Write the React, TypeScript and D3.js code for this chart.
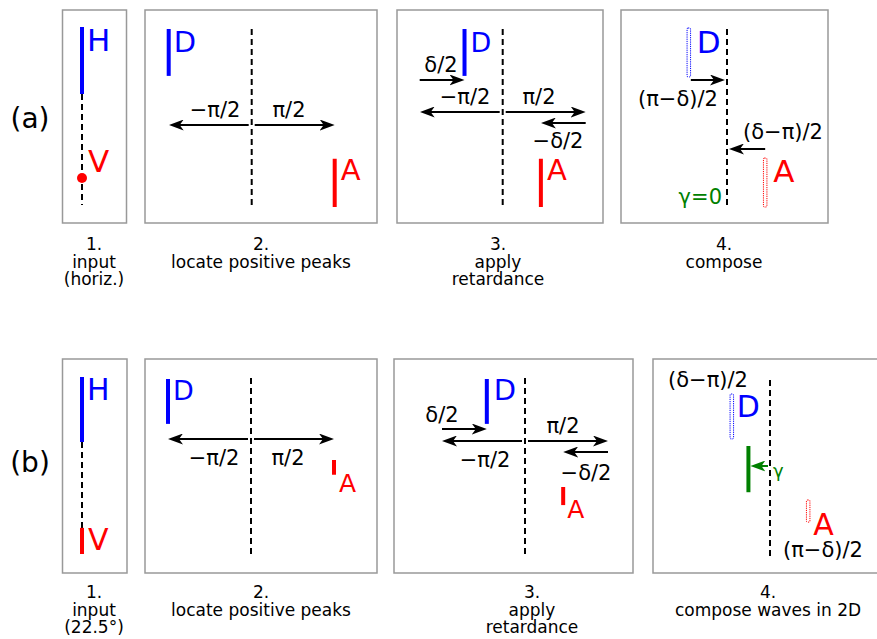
import React from "react";
import * as d3 from "d3";

// retardance, in units of pi
const delta = 0.54;

const rowLabels = ["(a)", "(b)"];
const captionsA = [["1.", "input", "(horiz.)"], ["2.", "locate positive peaks"], ["3.", "apply", "retardance"], ["4.", "compose"]];
const captionsB = [["1.", "input", "(22.5°)"], ["2.", "locate positive peaks"], ["3.", "apply", "retardance"], ["4.", "compose waves in 2D"]];

// amplitudes (1 = full input amplitude)
const inputAmpA = [1.0, 0]; // H, V
const inputAmpB = [0.97, 0.39];
const peakAmpA = [0.7, 0.72]; // D, A
const peakAmpB = [0.67, 0.22];
const retardAmpB = [0.67, 0.27];
const composeAmpA = [0.73, 0.73];
const composeAmpB = [0.67, 0.33];
const gammaAmpB = 0.69;
const gammaPhaseB = -0.13;

const phaseLabels = ["−π/2", "π/2", "δ/2", "−δ/2", "(π−δ)/2", "(δ−π)/2"];

const FONT = "DejaVu Sans";
const BLUE = "#0000ff", RED = "#ff0000", GREEN = "#008000";

const amp = d3.scaleLinear().domain([0, 1]).range([0, 67]);
const phaseScale = (cx: number) => d3.scaleLinear().domain([-1, 1]).range([cx - 166, cx + 166]);

const Box = ({ x0, x1, y0, y1 }: any) => (
  <rect x={x0} y={y0} width={x1 - x0} height={y1 - y0} fill="none" stroke="#999" strokeWidth={1.5} />
);

const Dash = ({ x, y0, y1 }: any) => (
  <line x1={x} x2={x} y1={y0} y2={y1} stroke="#000" strokeWidth={2} strokeDasharray="6,4" />
);

const Bar = ({ x, y0, y1, color }: any) => (
  <line x1={x} x2={x} y1={y0} y2={y1} stroke={color} strokeWidth={4} />
);

const Dotted = ({ x, y0, y1, color }: any) => (
  <rect x={x - 1.75} y={y0} width={3.5} height={y1 - y0} rx={1} fill="none" stroke={color} strokeWidth={1} strokeDasharray="1.2,1" />
);

const Arrow = ({ x1, x2, y, color = "#000" }: any) => {
  const dir = x2 > x1 ? 1 : -1;
  return (
    <line x1={x1} x2={x2 - dir * 6} y1={y} y2={y} stroke={color} strokeWidth={2}
      markerEnd={`url(#head-${color === "#000" ? "k" : "g"})`} />
  );
};

const Txt = ({ x, y, s = 21, anchor = "middle", color = "#000", children }: any) => (
  <text x={x} y={y} fontSize={s} textAnchor={anchor} fill={color} fontFamily={FONT}>{children}</text>
);

const Caption = ({ x, y, lines }: any) => (
  <g>
    {lines.map((l: string, i: number) => (
      <Txt key={i} x={x} y={y + i * 17.5} s={17}>{l}</Txt>
    ))}
  </g>
);

export default function App() {
  const a2 = phaseScale(251.7), a3 = phaseScale(502.7), a4 = phaseScale(727);
  const b2 = phaseScale(251), b3 = phaseScale(525), b4 = phaseScale(770);
  const half = (1 - delta) / 2;

  return (
    <svg width={877} height={639} style={{ position: "absolute", left: 0, top: 0, background: "#fff" }}>
      <defs>
        {[["k", "#000"], ["g", GREEN]].map(([id, c]) => (
          <marker key={id} id={`head-${id}`} viewBox="0 0 15 11" markerWidth={15} markerHeight={11}
            refX={9} refY={5.5} orient="auto" markerUnits="userSpaceOnUse">
            <path d="M0,0 L15,5.5 L0,11 L4,5.5 Z" fill={c} />
          </marker>
        ))}
      </defs>

      <Txt x={30} y={128} s={28}>{rowLabels[0]}</Txt>
      <Txt x={30} y={472} s={28}>{rowLabels[1]}</Txt>

      {/* ---------- row (a) ---------- */}
      <Box x0={62.5} x1={126.5} y0={10} y1={223} />
      <Dash x={82} y0={94} y1={205} />
      <Bar x={82} y0={27} y1={27 + amp(inputAmpA[0])} color={BLUE} />
      <circle cx={82} cy={178} r={5 + amp(inputAmpA[1])} fill={RED} />
      <Txt x={87} y={51} s={31} anchor="start" color={BLUE}>H</Txt>
      <Txt x={88} y={172} s={31} anchor="start" color={RED}>V</Txt>
      <Caption x={94} y={250} lines={captionsA[0]} />

      <Box x0={145} x1={377} y0={10} y1={223} />
      <Dash x={a2(0)} y0={29} y1={206} />
      <Bar x={a2(-0.5)} y0={29} y1={29 + amp(peakAmpA[0])} color={BLUE} />
      <Bar x={a2(0.5)} y0={207 - amp(peakAmpA[1])} y1={207} color={RED} />
      <Txt x={a2(-0.5) + 5} y={52} s={29} anchor="start" color={BLUE}>D</Txt>
      <Txt x={a2(0.5) + 6} y={180} s={29} anchor="start" color={RED}>A</Txt>
      <Arrow x1={a2(0) - 3} x2={a2(-0.5)} y={125} />
      <Arrow x1={a2(0) + 3} x2={a2(0.5)} y={125} />
      <Txt x={215} y={117}>{phaseLabels[0]}</Txt>
      <Txt x={289} y={117}>{phaseLabels[1]}</Txt>
      <Caption x={261} y={250} lines={captionsA[1]} />

      <Box x0={397} x1={603} y0={10} y1={223} />
      <Dash x={a3(0)} y0={29} y1={206} />
      <Bar x={a3(-half)} y0={29} y1={29 + amp(peakAmpA[0])} color={BLUE} />
      <Bar x={a3(half)} y0={207 - amp(peakAmpA[1])} y1={207} color={RED} />
      <Txt x={a3(-half) + 6} y={52} s={27} anchor="start" color={BLUE}>D</Txt>
      <Txt x={a3(half) + 6} y={180} s={29} anchor="start" color={RED}>A</Txt>
      <Arrow x1={a3(-0.5)} x2={a3(-0.5 + delta / 2)} y={80} />
      <Txt x={441} y={72}>{phaseLabels[2]}</Txt>
      <Arrow x1={a3(0) - 3} x2={a3(-0.5)} y={112} />
      <Arrow x1={a3(0) + 3} x2={a3(0.5)} y={112} />
      <Txt x={465} y={104}>{phaseLabels[0]}</Txt>
      <Txt x={539} y={104}>{phaseLabels[1]}</Txt>
      <Arrow x1={a3(0.5)} x2={a3(0.5 - delta / 2)} y={123} />
      <Txt x={558} y={148}>{phaseLabels[3]}</Txt>
      <Caption x={498} y={250} lines={captionsA[2]} />

      <Box x0={621} x1={828} y0={10} y1={223} />
      <Dash x={a4(0)} y0={29} y1={206} />
      <Dotted x={a4(-half)} y0={28} y1={28 + amp(composeAmpA[0])} color={BLUE} />
      <Dotted x={a4(half)} y0={207 - amp(composeAmpA[1])} y1={207} color={RED} />
      <Txt x={a4(-half) + 8} y={53} s={31} anchor="start" color={BLUE}>D</Txt>
      <Txt x={a4(half) + 8} y={182} s={31} anchor="start" color={RED}>A</Txt>
      <Arrow x1={a4(-half) + 2} x2={a4(0) - 2} y={80} />
      <Txt x={678} y={106}>{phaseLabels[4]}</Txt>
      <Arrow x1={a4(half)} x2={a4(0) + 2} y={149} />
      <Txt x={783} y={139}>{phaseLabels[5]}</Txt>
      <Txt x={722} y={204} s={21} anchor="end" color={GREEN}>γ=0</Txt>
      <Caption x={724} y={250} lines={captionsA[3]} />

      {/* ---------- row (b) ---------- */}
      <Box x0={62.5} x1={127} y0={359} y1={573} />
      <Dash x={82} y0={442} y1={528} />
      <Bar x={82} y0={377} y1={377 + amp(inputAmpB[0])} color={BLUE} />
      <Bar x={82} y0={554 - amp(inputAmpB[1])} y1={554} color={RED} />
      <Txt x={87} y={400} s={30} anchor="start" color={BLUE}>H</Txt>
      <Txt x={88} y={550} s={30} anchor="start" color={RED}>V</Txt>
      <Caption x={94} y={598} lines={captionsB[0]} />

      <Box x0={145} x1={377} y0={359} y1={573} />
      <Dash x={b2(0)} y0={378} y1={555} />
      <Bar x={b2(-0.5)} y0={379} y1={379 + amp(peakAmpB[0])} color={BLUE} />
      <Bar x={b2(0.5)} y0={460} y1={460 + amp(peakAmpB[1])} color={RED} />
      <Txt x={b2(-0.5) + 5} y={400} s={27} anchor="start" color={BLUE}>D</Txt>
      <Txt x={b2(0.5) + 5} y={492} s={25} anchor="start" color={RED}>A</Txt>
      <Arrow x1={b2(0) - 3} x2={b2(-0.5)} y={439} />
      <Arrow x1={b2(0) + 3} x2={b2(0.5)} y={439} />
      <Txt x={214} y={465}>{phaseLabels[0]}</Txt>
      <Txt x={288} y={465}>{phaseLabels[1]}</Txt>
      <Caption x={261} y={598} lines={captionsB[1]} />

      <Box x0={394} x1={633} y0={359} y1={573} />
      <Dash x={b3(0)} y0={378} y1={555} />
      <Bar x={b3(-half)} y0={379} y1={379 + amp(peakAmpB[0])} color={BLUE} />
      <Bar x={b3(half)} y0={487} y1={487 + amp(retardAmpB[1])} color={RED} />
      <Txt x={b3(-half) + 7} y={400} s={29} anchor="start" color={BLUE}>D</Txt>
      <Txt x={b3(half) + 4} y={518} s={25} anchor="start" color={RED}>A</Txt>
      <Txt x={442} y={422}>{phaseLabels[2]}</Txt>
      <Arrow x1={b3(-0.5)} x2={b3(-0.5 + delta / 2)} y={429} />
      <Arrow x1={b3(0) - 3} x2={b3(-0.5)} y={441} />
      <Arrow x1={b3(0) + 3} x2={b3(0.5)} y={441} />
      <Txt x={485} y={467}>{phaseLabels[0]}</Txt>
      <Txt x={563} y={433}>{phaseLabels[1]}</Txt>
      <Arrow x1={b3(0.5)} x2={b3(0.5 - delta / 2)} y={452} />
      <Txt x={586} y={480}>{phaseLabels[3]}</Txt>
      <Caption x={532} y={598} lines={captionsB[2]} />

      <Box x0={653} x1={900} y0={359} y1={573} />
      <Dash x={b4(0)} y0={380} y1={557} />
      <Txt x={708} y={387}>{phaseLabels[5]}</Txt>
      <Dotted x={b4(-half)} y0={394} y1={394 + amp(composeAmpB[0])} color={BLUE} />
      <Txt x={b4(-half) + 5} y={417} s={30} anchor="start" color={BLUE}>D</Txt>
      <Bar x={b4(gammaPhaseB)} y0={446} y1={446 + amp(gammaAmpB)} color={GREEN} />
      <Arrow x1={b4(0) - 2} x2={b4(gammaPhaseB) + 2} y={466} color={GREEN} />
      <Txt x={773} y={477} s={18} anchor="start" color={GREEN}>γ</Txt>
      <Dotted x={b4(half)} y0={500} y1={500 + amp(composeAmpB[1])} color={RED} />
      <Txt x={b4(half) + 5} y={535} s={30} anchor="start" color={RED}>A</Txt>
      <Txt x={823} y={557}>{phaseLabels[4]}</Txt>
      <Caption x={768} y={598} lines={captionsB[3]} />
    </svg>
  );
}
